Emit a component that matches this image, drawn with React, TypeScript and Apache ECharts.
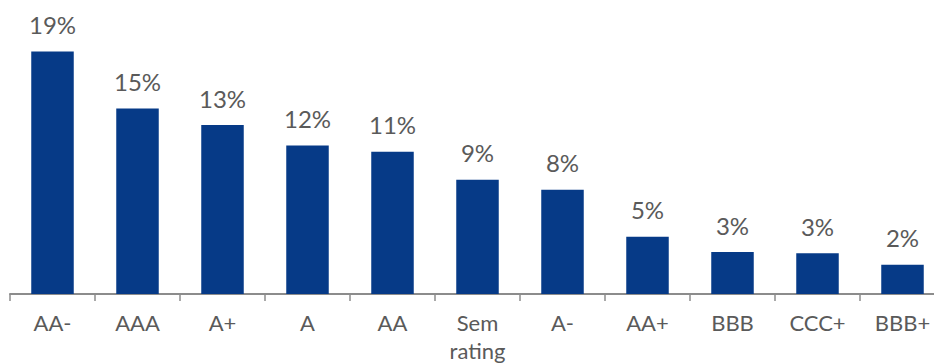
import React, { useEffect, useRef } from "react";
import * as echarts from "echarts";

const categories = ["AA-", "AAA", "A+", "A", "AA", "Sem\nrating", "A-", "AA+", "BBB", "CCC+", "BBB+"];
const shares = [19.1, 14.6, 13.3, 11.7, 11.2, 9.0, 8.2, 4.5, 3.3, 3.2, 2.3];

export default function App() {
  const ref = useRef<HTMLDivElement>(null);
  useEffect(() => {
    if (!ref.current) return;
    const chart = echarts.init(ref.current, undefined, { renderer: "svg" });
    chart.setOption({
      animation: false,
      grid: { left: 10, right: -11, top: 40, bottom: 69, containLabel: false, outerBoundsMode: "none" },
      xAxis: {
        type: "category",
        data: categories,
        boundaryGap: true,
        axisLine: { show: true, lineStyle: { color: "#8c8c8c", width: 2 } },
        axisTick: { show: true, length: 7, lineStyle: { color: "#8c8c8c", width: 1.5 } },
        axisLabel: {
          color: "#5a5a5a",
          fontFamily: "Lato",
          fontSize: 22,
          margin: 14,
          lineHeight: 28,
          interval: 0,
        },
      },
      yAxis: {
        type: "value",
        min: 0,
        max: 20,
        show: false,
        splitLine: { show: false },
      },
      series: [
        {
          type: "bar",
          data: shares,
          barWidth: "50%",
          itemStyle: { color: "#063a87" },
          label: {
            show: true,
            position: "top",
            distance: 15,
            color: "#5a5a5a",
            fontFamily: "Lato",
            fontSize: 24,
            formatter: (p: any) => Math.round(p.value) + "%",
          },
        },
      ],
    });
    return () => chart.dispose();
  }, []);
  return <div ref={ref} style={{ width: 934, height: 363, position: "absolute", left: 0, top: 0 }} />;
}
